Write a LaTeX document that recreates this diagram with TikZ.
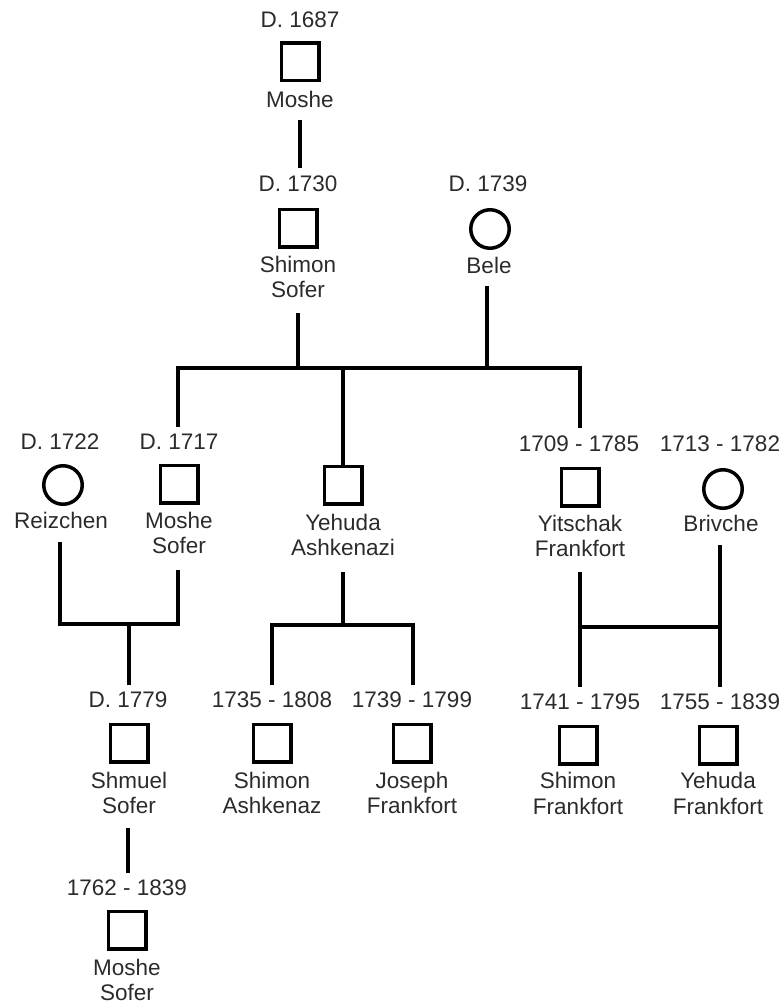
\documentclass[tikz,border=0pt]{standalone}
\usepackage{fontspec}
\setmainfont{Liberation Sans}
\definecolor{txt}{HTML}{2B2B2B}
\begin{document}
\begin{tikzpicture}[x=1pt,y=-1pt,
  lbl/.style={anchor=base, inner sep=0pt, text=txt, font=\fontsize{22.5}{25}\selectfont},
  male/.style={draw, line width=3.5pt, minimum size=37.5pt, inner sep=0pt},
  female/.style={draw, circle, line width=3.5pt, minimum size=38.5pt, inner sep=0pt},
  link/.style={line width=3.3pt, line join=miter}]
\useasboundingbox (0,0) rectangle (783,1003);
% generation 1
\node[male] (p1) at (300,62) {};
\node[lbl] (d1) at (300,28) {D. 1687};
\node[lbl] (n1) at (300,108) {Moshe};
% generation 2
\node[male] (p2) at (298,228) {};
\node[lbl] (d2) at (298,192) {D. 1730};
\node[lbl] (n2a) at (298,272) {Shimon};
\node[lbl] (n2b) at (298,297) {Sofer};
\node[female] (p3) at (490,229) {};
\node[lbl] (d3) at (488,192) {D. 1739};
\node[lbl] (n3) at (489,273) {Bele};
% generation 3
\node[female] (p4) at (63,485) {};
\node[lbl] (d4) at (60,449) {D. 1722};
\node[lbl] (n4) at (61,528) {Reizchen};
\node[male] (p5) at (179,484) {};
\node[lbl] (d5) at (179,449) {D. 1717};
\node[lbl] (n5a) at (179,528) {Moshe};
\node[lbl] (n5b) at (179,553) {Sofer};
\node[male] (p6) at (343,485) {};
\node[lbl] (n6a) at (343,530) {Yehuda};
\node[lbl] (n6b) at (343,555) {Ashkenazi};
\node[male] (p7) at (580,487) {};
\node[lbl] (d7) at (579,451) {1709 - 1785};
\node[lbl] (n7a) at (580,531) {Yitschak};
\node[lbl] (n7b) at (580,556) {Frankfort};
\node[female] (p8) at (723,489) {};
\node[lbl] (d8) at (720,451) {1713 - 1782};
\node[lbl] (n8) at (721,531) {Brivche};
% generation 4
\node[male] (p9) at (129,743) {};
\node[lbl] (d9) at (128,707) {D. 1779};
\node[lbl] (n9a) at (129,788) {Shmuel};
\node[lbl] (n9b) at (129,813) {Sofer};
\node[male] (p10) at (272,743) {};
\node[lbl] (d10) at (272,707) {1735 - 1808};
\node[lbl] (n10a) at (272,788) {Shimon};
\node[lbl] (n10b) at (272,813) {Ashkenaz};
\node[male] (p11) at (412,743) {};
\node[lbl] (d11) at (412,707) {1739 - 1799};
\node[lbl] (n11a) at (412,788) {Joseph};
\node[lbl] (n11b) at (412,813) {Frankfort};
\node[male] (p12) at (578,745) {};
\node[lbl] (d12) at (580,709) {1741 - 1795};
\node[lbl] (n12a) at (578,788) {Shimon};
\node[lbl] (n12b) at (578,814) {Frankfort};
\node[male] (p13) at (718,745) {};
\node[lbl] (d13) at (720,709) {1755 - 1839};
\node[lbl] (n13a) at (718,788) {Yehuda};
\node[lbl] (n13b) at (718,814) {Frankfort};
% generation 5
\node[male] (p14) at (127,930) {};
\node[lbl] (d14) at (127,895) {1762 - 1839};
\node[lbl] (n14a) at (127,975) {Moshe};
\node[lbl] (n14b) at (127,1000) {Sofer};
% connector end points
\coordinate (a1) at (300,120); \coordinate (a2) at (300,168);
\coordinate (b1) at (298,313); \coordinate (b2) at (298,368);
\coordinate (c1) at (487,286); \coordinate (c2) at (487,368);
\coordinate (h1l) at (178,368); \coordinate (h1r) at (580,368);
\coordinate (e1) at (178,427); \coordinate (e2) at (580,428);
\coordinate (y1) at (343,368);
\coordinate (r1) at (60,542); \coordinate (r2) at (60,624);
\coordinate (m1) at (178,570); \coordinate (m2) at (178,624);
\coordinate (s1) at (129,624); \coordinate (s2) at (129,685);
\coordinate (k1) at (343,572); \coordinate (k2) at (343,625);
\coordinate (k3) at (272,625); \coordinate (k4) at (413,625);
\coordinate (k5) at (272,685); \coordinate (k6) at (413,685);
\coordinate (t1) at (580,572); \coordinate (t2) at (580,687);
\coordinate (t3) at (720,545); \coordinate (t4) at (720,687);
\coordinate (t5) at (580,627); \coordinate (t6) at (720,627);
\coordinate (u1) at (128,828); \coordinate (u2) at (128,873);
% connectors
\draw[link] (a1) -- (a2);
\draw[link] (b1) -- (b2);
\draw[link] (c1) -- (c2);
\draw[link] (e1) -- (h1l) -- (h1r) -- (e2);
\draw[link] (y1) -- (p6.north);
\draw[link] (r1) -- (r2) -- (m2) -- (m1);
\draw[link] (s1) -- (s2);
\draw[link] (k1) -- (k2);
\draw[link] (k5) -- (k3) -- (k4) -- (k6);
\draw[link] (t1) -- (t2);
\draw[link] (t3) -- (t4);
\draw[link] (t5) -- (t6);
\draw[link] (u1) -- (u2);
\end{tikzpicture}
\end{document}
